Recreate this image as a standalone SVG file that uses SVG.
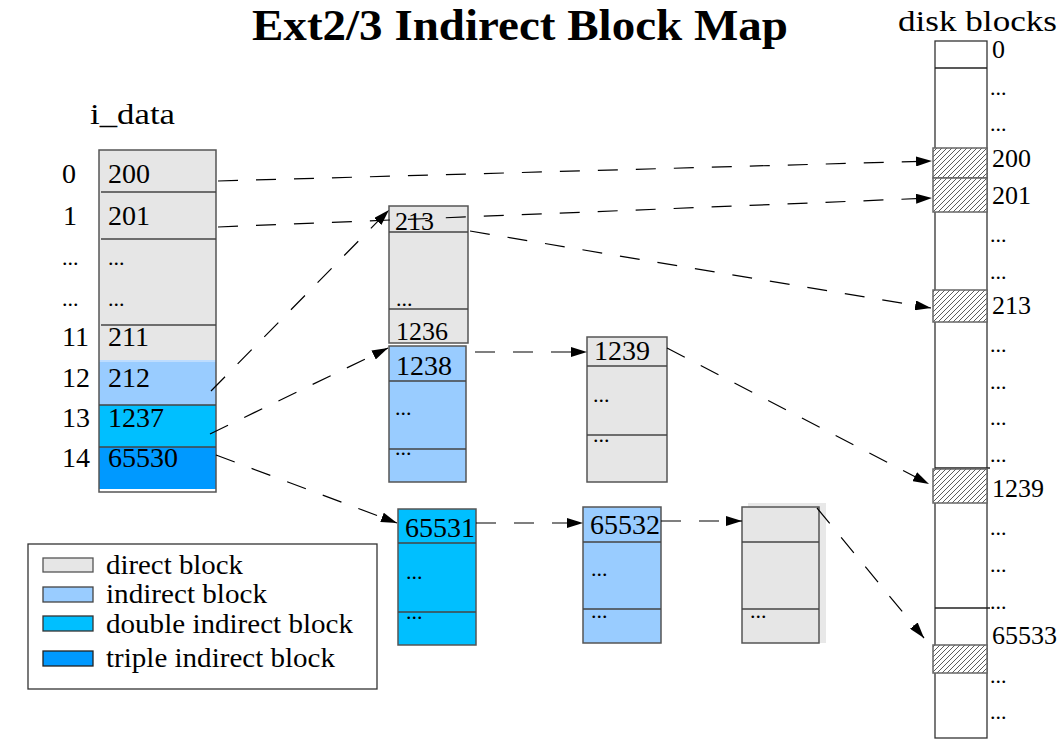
<svg xmlns="http://www.w3.org/2000/svg" width="1063" height="740" viewBox="0 0 1063 740">
<style>
text{font-family:"Liberation Serif","Times New Roman",serif;fill:#000}
.d{font-size:28px}
.s{font-size:26px}
.dots{font-size:22px}
.lg{font-size:27px}
.box{stroke:#555;stroke-width:1.5}
.sep{stroke:#444;stroke-width:1.3}
.g{fill:#e6e6e6}
.b1{fill:#99ccff}
.b2{fill:#00bfff}
.b3{fill:#0099ff}
.h{fill:url(#hatch);stroke:#666;stroke-width:1.5}
.c{fill:none;stroke:#000;stroke-width:1.2;stroke-dasharray:20 18;marker-end:url(#arr)}
</style>
<defs>
<pattern id="hatch" patternUnits="userSpaceOnUse" width="5" height="5">
<rect width="5" height="5" fill="#fff"/>
<path d="M0,5 L5,0 M-1,1 L1,-1 M4,6 L6,4" stroke="#333" stroke-width="0.8"/>
</pattern>
<marker id="arr" markerUnits="userSpaceOnUse" markerWidth="16" markerHeight="10" refX="16" refY="5" orient="auto">
<path d="M0,0 L16,5 L0,10 z" fill="#000"/>
</marker>
</defs>
<rect width="1063" height="740" fill="#fff"/>

<text x="252" y="40" font-size="45" font-weight="bold" textLength="536" lengthAdjust="spacingAndGlyphs">Ext2/3 Indirect Block Map</text>

<g id="i_data">
<text x="90" y="124" font-size="30" textLength="85" lengthAdjust="spacingAndGlyphs">i_data</text>
<rect x="99" y="150" width="117" height="211" class="g"/>
<rect x="99" y="361" width="117" height="44" class="b1"/>
<rect x="99" y="405" width="117" height="42" class="b2"/>
<rect x="99" y="447" width="117" height="42" class="b3"/>
<line x1="99" y1="361" x2="216" y2="361" stroke="#bcdcff" stroke-width="2"/>
<rect x="99" y="150" width="117" height="342" fill="none" class="box"/>
<line x1="101" y1="192" x2="216" y2="192" class="sep"/>
<line x1="101" y1="239" x2="216" y2="239" class="sep"/>
<line x1="101" y1="325" x2="216" y2="325" class="sep"/>
<line x1="99" y1="405" x2="216" y2="405" class="sep"/>
<line x1="99" y1="447" x2="216" y2="447" class="sep"/>
<text x="108" y="183" class="d">200</text>
<text x="108" y="225" class="d">201</text>
<text x="108" y="265" class="dots">...</text>
<text x="108" y="306" class="dots">...</text>
<text x="108" y="346" class="d">211</text>
<text x="108" y="387" class="d">212</text>
<text x="108" y="427" class="d">1237</text>
<text x="108" y="467" class="d">65530</text>
<text x="62" y="183" class="d">0</text>
<text x="63" y="225" class="d">1</text>
<text x="62" y="265" class="dots">...</text>
<text x="62" y="306" class="dots">...</text>
<text x="62" y="346" class="d">11</text>
<text x="62" y="387" class="d">12</text>
<text x="62" y="427" class="d">13</text>
<text x="62" y="467" class="d">14</text>
</g>

<g id="block213">
<rect x="389" y="206" width="79" height="137" class="g box"/>
<line x1="389" y1="232" x2="468" y2="232" class="sep"/>
<line x1="389" y1="309" x2="468" y2="309" class="sep"/>
<text x="395" y="230" class="s">213</text>
<text x="396" y="306" class="dots">...</text>
<text x="396" y="340" class="s">1236</text>
</g>

<g id="block1238">
<rect x="389" y="346" width="77" height="136" class="b1 box"/>
<line x1="389" y1="381" x2="466" y2="381" class="sep"/>
<line x1="389" y1="449" x2="466" y2="449" class="sep"/>
<text x="396" y="375" class="d">1238</text>
<text x="395" y="415" class="dots">...</text>
<text x="395" y="455" class="dots">...</text>
</g>

<g id="block1239">
<rect x="587" y="337" width="80" height="145" class="g box"/>
<line x1="587" y1="366" x2="667" y2="366" class="sep"/>
<line x1="587" y1="435" x2="667" y2="435" class="sep"/>
<text x="594" y="360" class="d">1239</text>
<text x="593" y="402" class="dots">...</text>
<text x="593" y="442" class="dots">...</text>
</g>

<g id="block65531">
<rect x="398" y="509" width="78" height="136" class="b2 box"/>
<line x1="398" y1="543" x2="476" y2="543" class="sep"/>
<line x1="398" y1="612" x2="476" y2="612" class="sep"/>
<text x="405" y="537" class="d">65531</text>
<text x="406" y="579" class="dots">...</text>
<text x="406" y="619" class="dots">...</text>
</g>

<g id="block65532">
<rect x="583" y="507" width="78" height="136" class="b1 box"/>
<line x1="583" y1="542" x2="661" y2="542" class="sep"/>
<line x1="583" y1="609" x2="661" y2="609" class="sep"/>
<text x="590" y="534" class="d">65532</text>
<text x="591" y="576" class="dots">...</text>
<text x="591" y="618" class="dots">...</text>
</g>

<g id="blockdirect">
<rect x="748" y="503" width="78" height="140" fill="#e8e8e8"/>
<rect x="742" y="507" width="77" height="136" class="g box"/>
<line x1="742" y1="542" x2="819" y2="542" class="sep"/>
<line x1="742" y1="609" x2="819" y2="609" class="sep"/>
<text x="750" y="618" class="dots">...</text>
</g>

<g id="legend">
<rect x="28" y="544" width="349" height="145" fill="#fff" stroke="#333" stroke-width="1.3"/>
<rect x="43" y="558" width="50" height="14" class="g" stroke="#555" stroke-width="1.3"/>
<rect x="43" y="587" width="50" height="15" class="b1" stroke="#444" stroke-width="1.3"/>
<rect x="43" y="616" width="50" height="15" class="b2" stroke="#333" stroke-width="1.3"/>
<rect x="43" y="651" width="50" height="15" class="b3" stroke="#222" stroke-width="1.3"/>
<text x="106" y="574" class="lg" textLength="137" lengthAdjust="spacingAndGlyphs">direct block</text>
<text x="106" y="603" class="lg" textLength="161" lengthAdjust="spacingAndGlyphs">indirect block</text>
<text x="106" y="633" class="lg" textLength="247" lengthAdjust="spacingAndGlyphs">double indirect block</text>
<text x="106" y="667" class="lg" textLength="229" lengthAdjust="spacingAndGlyphs">triple indirect block</text>
</g>

<g id="disk">
<text x="898" y="31" font-size="29" textLength="159" lengthAdjust="spacingAndGlyphs">disk blocks</text>
<rect x="935" y="41" width="52" height="697" fill="#fff" stroke="#333" stroke-width="1.3"/>
<line x1="935" y1="68" x2="987" y2="68" stroke="#222" stroke-width="1.3"/>
<line x1="935" y1="468" x2="990" y2="468" stroke="#222" stroke-width="1.3"/>
<line x1="935" y1="608" x2="990" y2="608" stroke="#222" stroke-width="1.3"/>
<rect x="933" y="148" width="54" height="30" class="h"/>
<rect x="933" y="178" width="54" height="34" class="h"/>
<rect x="933" y="290" width="54" height="32" class="h"/>
<rect x="933" y="469" width="54" height="34" class="h"/>
<rect x="933" y="645" width="54" height="28" class="h"/>
<text x="992" y="58" class="s">0</text>
<text x="990" y="95" class="dots">...</text>
<text x="990" y="131" class="dots">...</text>
<text x="992" y="167" class="s">200</text>
<text x="992" y="204" class="s">201</text>
<text x="990" y="242" class="dots">...</text>
<text x="990" y="279" class="dots">...</text>
<text x="992" y="314" class="s">213</text>
<text x="990" y="352" class="dots">...</text>
<text x="990" y="389" class="dots">...</text>
<text x="990" y="425" class="dots">...</text>
<text x="990" y="462" class="dots">...</text>
<text x="992" y="497" class="s">1239</text>
<text x="990" y="535" class="dots">...</text>
<text x="990" y="572" class="dots">...</text>
<text x="990" y="609" class="dots">...</text>
<text x="992" y="644" class="s">65533</text>
<text x="990" y="683" class="dots">...</text>
<text x="990" y="719" class="dots">...</text>
</g>

<g id="connectors">
<line x1="218" y1="181" x2="932" y2="161" class="c"/>
<line x1="218" y1="227" x2="932" y2="198" class="c"/>
<line x1="211" y1="391" x2="389" y2="210" class="c"/>
<line x1="210" y1="434" x2="388" y2="348" class="c"/>
<line x1="216" y1="455" x2="397" y2="523" class="c"/>
<line x1="470" y1="231" x2="931" y2="308" class="c"/>
<line x1="475" y1="352" x2="587" y2="352" class="c"/>
<line x1="667" y1="348" x2="929" y2="484" class="c"/>
<line x1="476" y1="523" x2="583" y2="523" class="c"/>
<line x1="661" y1="521" x2="742" y2="521" class="c"/>
<line x1="817" y1="508" x2="924" y2="638" class="c"/>
</g>
</svg>
